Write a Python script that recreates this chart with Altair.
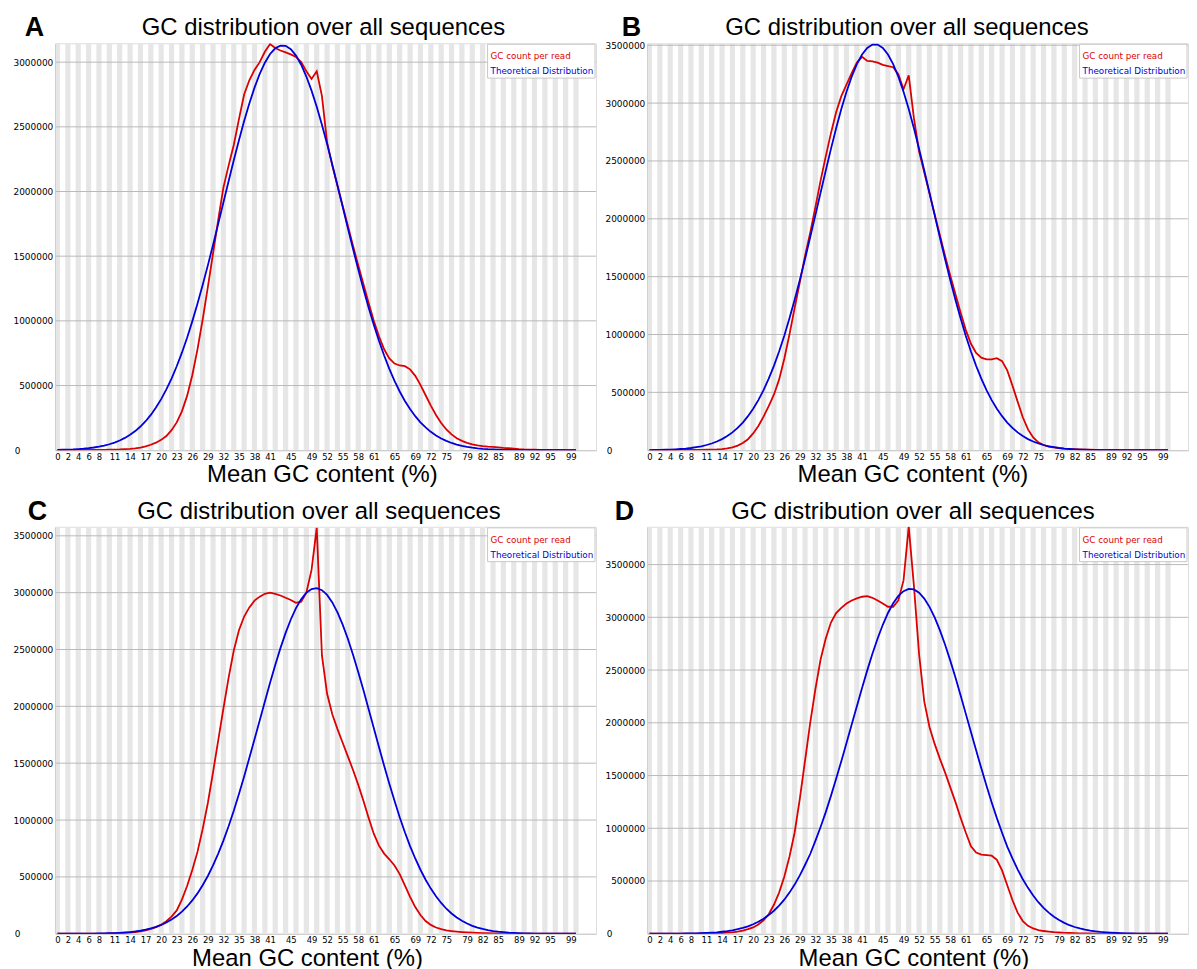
import altair as alt
import pandas as pd

# ---------------- data (values in thousands of reads) ----------------
GC = list(range(101))
X_LABELS = [0, 2, 4, 6, 8, 11, 14, 17, 20, 23, 26, 29, 32, 35, 38, 41, 45, 49, 52,
            55, 58, 61, 65, 69, 72, 75, 79, 82, 85, 89, 92, 95, 99]
STRIPES = list(range(0, 101, 2))

A_RED = [1, 1, 1, 1, 1, 2, 2, 2, 3, 3,
         4, 5, 6, 8, 10, 14, 20, 30, 42, 58,
         80, 110, 155, 215, 300, 420, 580, 780, 1010, 1260,
         1520, 1780, 2030, 2200, 2360, 2560, 2750, 2860, 2940, 3000,
         3080, 3140, 3110, 3090, 3075, 3060, 3040, 3000, 2930, 2870,
         2930, 2740, 2380, 2200, 2045, 1890, 1735, 1580, 1430, 1285,
         1140, 1000, 880, 780, 710, 670, 655, 650, 625, 575,
         505, 425, 345, 272, 210, 160, 122, 93, 72, 57,
         46, 38, 32, 28, 25, 22, 18, 15, 12, 8,
         6, 5, 4, 3, 3, 2, 2, 2, 1, 1, 1]
A_BLUE = [2.5, 3.5, 5, 6.5, 9, 12, 16, 21, 27, 36,
          46, 59, 75, 95, 119, 148, 183, 224, 273, 330,
          395, 470, 554, 649, 754, 870, 996, 1132, 1277, 1429,
          1587, 1750, 1915, 2079, 2241, 2397, 2545, 2681, 2803, 2909,
          2996, 3063, 3107, 3128, 3126, 3100, 3051, 2980, 2889, 2780,
          2655, 2516, 2367, 2209, 2047, 1882, 1717, 1555, 1398, 1247,
          1104, 970, 846, 732, 629, 536, 454, 381, 318, 263,
          216, 176, 142, 114, 91, 72, 56, 44, 34, 26,
          20, 15, 11, 8, 6, 4.5, 3.3, 2.4, 1.7, 1.2,
          0.9, 0.6, 0.4, 0.3, 0.2, 0.1, 0.1, 0.1, 0, 0, 0]

B_RED = [1, 1, 1, 1, 1, 1, 1, 2, 2, 2,
         3, 4, 5, 7, 10, 15, 25, 40, 62, 95,
         145, 210, 290, 380, 480, 610, 790, 1000, 1230, 1450,
         1680, 1880, 2100, 2330, 2540, 2740, 2920, 3060, 3160, 3260,
         3350, 3400, 3365, 3360, 3350, 3330, 3320, 3310, 3250, 3120,
         3240, 2870, 2580, 2400, 2220, 2040, 1860, 1680, 1510, 1350,
         1190, 1040, 920, 840, 800, 785, 785, 795, 770, 690,
         560, 420, 285, 180, 110, 68, 45, 32, 24, 18,
         14, 11, 9, 7, 5, 4, 3, 3, 2, 2,
         2, 1, 1, 1, 1, 1, 1, 1, 1, 1, 1]
B_BLUE = [1.4, 2, 2.8, 4, 5.5, 7.7, 10.5, 14, 19, 26,
          34, 45, 58, 75, 96, 122, 154, 193, 239, 294,
          358, 433, 519, 618, 729, 853, 990, 1140, 1300, 1472,
          1653, 1840, 2032, 2225, 2417, 2604, 2782, 2948, 3098, 3228,
          3337, 3420, 3477, 3506, 3506, 3477, 3420, 3337, 3228, 3098,
          2948, 2782, 2604, 2417, 2225, 2032, 1840, 1653, 1472, 1300,
          1140, 990, 853, 729, 618, 519, 433, 358, 294, 239,
          193, 154, 122, 96, 75, 58, 45, 34, 26, 19,
          14, 10.5, 7.7, 5.5, 4, 2.8, 2, 1.4, 1, 0.7,
          0.5, 0.3, 0.2, 0.1, 0.1, 0, 0, 0, 0, 0, 0]

C_RED = [1, 1, 1, 1, 1, 1, 1, 2, 2, 2,
         3, 4, 5, 7, 10, 15, 20, 30, 42, 58,
         80, 110, 150, 205, 300, 420, 560, 720, 920, 1150,
         1420, 1700, 1980, 2250, 2490, 2670, 2790, 2870, 2930, 2965,
         2990, 3000, 2990, 2975, 2955, 2935, 2910, 2920, 3000, 3200,
         3570, 2450, 2110, 1930, 1800, 1680, 1560, 1440, 1310, 1170,
         1020, 880, 775, 705, 655, 600, 525, 425, 325, 235,
         165, 112, 78, 55, 40, 30, 24, 19, 15, 12,
         10, 8, 6, 5, 4, 3, 3, 2, 2, 2,
         1, 1, 1, 1, 1, 1, 1, 1, 1, 1, 1]
C_BLUE = [0.2, 0.3, 0.4, 0.6, 0.8, 1.1, 1.5, 2, 2.3, 3,
          4.3, 6, 8, 11, 15, 20, 27, 36, 47, 60,
          77, 99, 125, 156, 194, 240, 293, 355, 427, 508,
          601, 705, 819, 945, 1081, 1230, 1384, 1546, 1710, 1876,
          2043, 2207, 2364, 2512, 2646, 2764, 2864, 2943, 3000, 3032,
          3040, 3022, 2980, 2914, 2826, 2719, 2594, 2454, 2303, 2143,
          1976, 1809, 1642, 1478, 1320, 1170, 1025, 893, 771, 662,
          563, 475, 397, 329, 271, 220, 178, 143, 114, 90,
          70, 54, 42, 32, 24, 18, 14, 10, 7.5, 5.5,
          4, 3, 2, 1.5, 1, 0.7, 0.5, 0.3, 0.2, 0.1, 0.1]

D_RED = [1, 1, 1, 1, 1, 1, 1, 1, 2, 2,
         3, 3, 4, 5, 7, 10, 14, 20, 30, 43,
         60, 88, 128, 185, 275, 390, 540, 730, 960, 1280,
         1640, 2000, 2320, 2600, 2800, 2950, 3040, 3090, 3130, 3160,
         3180, 3195, 3200, 3185, 3160, 3130, 3100, 3100, 3160, 3350,
         3860, 3300, 2650, 2200, 1960, 1800, 1660, 1530, 1390, 1250,
         1100, 960, 830, 770, 750, 745, 740, 700, 600, 460,
         320, 200, 120, 75, 50, 35, 26, 20, 15, 12,
         9, 7, 5, 4, 3, 3, 2, 2, 2, 1,
         1, 1, 1, 1, 1, 1, 1, 1, 1, 1, 1]
D_BLUE = [0.2, 0.3, 0.5, 0.7, 1, 1.3, 1.8, 2.4, 3.3, 4.5,
          6, 8, 11, 14, 19, 25, 33, 43, 55, 70,
          90, 113, 142, 177, 218, 267, 323, 390, 466, 553,
          652, 756, 880, 1012, 1153, 1307, 1469, 1636, 1808, 1983,
          2157, 2330, 2497, 2654, 2799, 2929, 3041, 3133, 3203, 3248,
          3269, 3264, 3233, 3178, 3099, 2999, 2879, 2743, 2592, 2431,
          2261, 2087, 1912, 1739, 1568, 1403, 1245, 1096, 958, 826,
          714, 611, 517, 435, 362, 299, 246, 200, 162, 130,
          103, 81, 64, 50, 39, 30, 23, 17, 13, 10,
          7, 5, 4, 3, 2, 1.5, 1, 0.8, 0.6, 0.4, 0.3]

Y_TICKS_A = [0, 500000, 1000000, 1500000, 2000000, 2500000, 3000000]
Y_TICKS_B = [0, 500000, 1000000, 1500000, 2000000, 2500000, 3000000, 3500000]
Y_MAX = {"A": 3146000, "B": 3517000, "C": 3579000, "D": 3858000}

TITLE = "GC distribution over all sequences"
X_TITLE = "Mean GC content (%)"
LEGEND = ["GC count per read", "Theoretical Distribution"]

for s in (A_RED, A_BLUE, B_RED, B_BLUE, C_RED, C_BLUE, D_RED, D_BLUE):
    assert len(s) == 101

# ---------------- styling ----------------
W, H = 543, 409
XDOM = [-0.33, 103.86]
RED = "#dc0000"
BLUE = "#0000dc"
TXT_FONT = "Liberation Sans"
AX_FONT = "DejaVu Sans"


def panel(letter, red, blue, ymax, yticks, title_dx, xtitle_dx, letter_dx):
    df = pd.DataFrame({"gc": GC,
                       "red": [v * 1000 for v in red],
                       "blue": [v * 1000 for v in blue]})
    xscale = alt.Scale(domain=XDOM, nice=False, zero=False)
    yscale = alt.Scale(domain=[0, ymax], nice=False, zero=True)
    xaxis = alt.Axis(values=X_LABELS, title=None, ticks=False, grid=False,
                     labelFont=AX_FONT, labelFontSize=8.5, labelColor="#000000",
                     labelPadding=2, labelFlush=False, labelOverlap=False,
                     domainColor="#c8c8c8", domainWidth=1)
    yaxis = alt.Axis(values=yticks, format="d", title=None, ticks=False, grid=False,
                     labelFont=AX_FONT, labelFontSize=9, labelColor="#000000",
                     labelPadding={"condition": {"test": "datum.value === 0", "value": 36},
                                   "value": 3},
                     labelFlush=False, labelOverlap=False,
                     domainColor="#9a9a9a", domainWidth=1.5,
                     minExtent=47, maxExtent=47)

    stripes = alt.Chart(pd.DataFrame({"s": STRIPES})).transform_calculate(
        s0="datum.s - 0.5", s1="datum.s + 0.5"
    ).mark_rect(color="#e6e6e6", clip=True).encode(
        x=alt.X("s0:Q", scale=xscale, axis=xaxis),
        x2="s1:Q",
        y=alt.value(0), y2=alt.value(H),
    )
    grid = alt.Chart(pd.DataFrame({"t": [t for t in yticks if t > 0]})).mark_rule(
        color="#b9b9b9", strokeWidth=1
    ).encode(y=alt.Y("t:Q", scale=yscale, axis=yaxis))

    red_line = alt.Chart(df).mark_line(color=RED, strokeWidth=1.8, clip=True).encode(
        x=alt.X("gc:Q", scale=xscale, axis=xaxis),
        y=alt.Y("red:Q", scale=yscale, axis=yaxis),
    )
    blue_line = alt.Chart(df).mark_line(color=BLUE, strokeWidth=1.8, clip=True).encode(
        x=alt.X("gc:Q", scale=xscale, axis=xaxis),
        y=alt.Y("blue:Q", scale=yscale, axis=yaxis),
    )

    one = pd.DataFrame({"k": [0]})
    leg_box = alt.Chart(one).mark_rect(fill="white", stroke="#c8c8c8", strokeWidth=1).encode(
        x=alt.value(W - 109), x2=alt.value(W - 1), y=alt.value(1), y2=alt.value(35))
    leg1 = alt.Chart(one).mark_text(align="left", baseline="alphabetic", font=AX_FONT,
                                    fontSize=8.8, color=RED).encode(
        x=alt.value(W - 106), y=alt.value(16), text=alt.value(LEGEND[0]))
    leg2 = alt.Chart(one).mark_text(align="left", baseline="alphabetic", font=AX_FONT,
                                    fontSize=8.8, color=BLUE).encode(
        x=alt.value(W - 106), y=alt.value(31), text=alt.value(LEGEND[1]))

    title = alt.Chart(one).mark_text(align="center", baseline="alphabetic", font=TXT_FONT,
                                     fontSize=24, color="#000000").encode(
        x=alt.value(W / 2 + title_dx), y=alt.value(-8), text=alt.value(TITLE))
    xtitle = alt.Chart(one).mark_text(align="center", baseline="alphabetic", font=TXT_FONT,
                                      fontSize=24, color="#000000").encode(
        x=alt.value(W / 2 + xtitle_dx), y=alt.value(H + 32), text=alt.value(X_TITLE))
    lab = alt.Chart(one).mark_text(align="center", baseline="alphabetic", font=TXT_FONT,
                                   fontSize=27, fontWeight="bold", color="#000000").encode(
        x=alt.value(letter_dx), y=alt.value(-7), text=alt.value(letter))

    return alt.layer(stripes, grid, red_line, blue_line, leg_box, leg1, leg2,
                     title, xtitle, lab).properties(width=W, height=H)


pA = panel("A", A_RED, A_BLUE, Y_MAX["A"], Y_TICKS_A, -2.5, -3.5, -21.5)
pB = panel("B", B_RED, B_BLUE, Y_MAX["B"], Y_TICKS_B, -11, -5, -16.5)
pC = panel("C", C_RED, C_BLUE, Y_MAX["C"], Y_TICKS_B, -7, -18.5, -18.5)
pD = panel("D", D_RED, D_BLUE, Y_MAX["D"], Y_TICKS_B, -5, -4, -23.5)

chart = alt.vconcat(
    alt.hconcat(pA, pB, spacing=3),
    alt.hconcat(pC, pD, spacing=3),
    spacing=9,
).properties(
    padding={"top": 3, "left": 0, "right": 0, "bottom": 0}
).configure_view(stroke=None).configure(background="white")

chart.save("out.html", embed_options={"renderer": "svg", "actions": False})
